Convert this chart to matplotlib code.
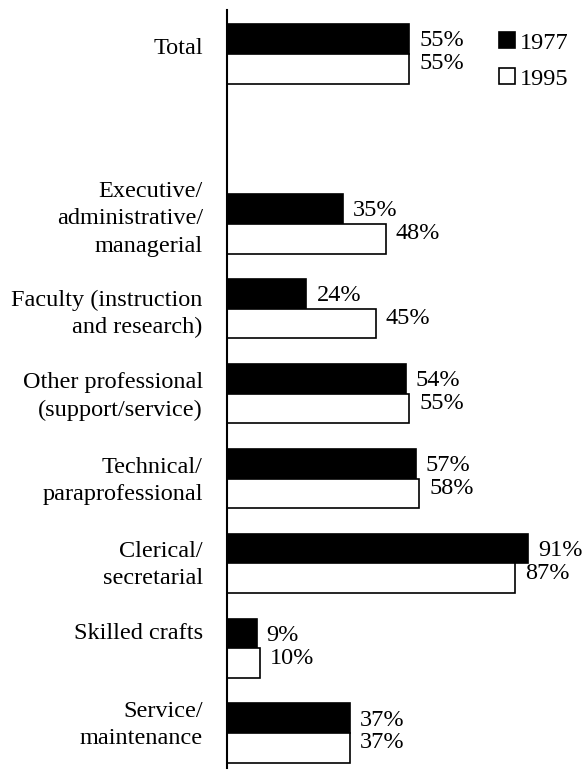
import matplotlib.pyplot as plt
import numpy as np

plt.rcParams['font.family'] = ['Liberation Serif', 'DejaVu Serif']

categories = ["Total", "Executive/\nadministrative/\nmanagerial",
              "Faculty (instruction\nand research)",
              "Other professional\n(support/service)",
              "Technical/\nparaprofessional", "Clerical/\nsecretarial",
              "Skilled crafts", "Service/\nmaintenance"]
vals_1977 = [55, 35, 24, 54, 57, 91, 9, 37]
vals_1995 = [55, 48, 45, 55, 58, 87, 10, 37]
# slot positions (blank slot after Total)
pos = np.array([0, 2, 3, 4, 5, 6, 7, 8])
# small vertical nudges for the category labels
lab_off = [-0.07, -0.06, 0.06, 0.03, 0.03, 0.02, -0.17, -0.1]

fig = plt.figure(figsize=(5.83, 7.7), dpi=100)
ax = fig.add_axes([227 / 583, 2 / 770, 1 - 227 / 583, 758 / 770])

h = 0.35
b1 = ax.barh(pos - h / 2, vals_1977, height=h, color='black', edgecolor='black', linewidth=1.2, label='1977')
b2 = ax.barh(pos + h / 2, vals_1995, height=h, color='white', edgecolor='black', linewidth=1.2, label='1995')

fs = 17.5
for p, v in zip(pos, vals_1977):
    ax.text(v + 3, p - h / 2 + 0.02, f"{v}%", va='center', ha='left', fontsize=fs)
for p, v in zip(pos, vals_1995):
    ax.text(v + 3, p + h / 2 - 0.06, f"{v}%", va='center', ha='left', fontsize=fs)

for p, c, o in zip(pos, categories, lab_off):
    ax.text(-7.3, p + o, c, ha='right', va='center', fontsize=fs, linespacing=1.4)

ax.set_xlim(0, 107.5)
ax.set_ylim(8.41, -0.52)
ax.set_xticks([])
ax.set_yticks([])
for s in ['top', 'right', 'bottom']:
    ax.spines[s].set_visible(False)
ax.spines['left'].set_linewidth(1.5)

ax.legend(handles=[b1, b2], loc='upper left', bbox_to_anchor=(499 / 583, 1 - 32 / 770),
          bbox_transform=fig.transFigure, frameon=False, fontsize=fs,
          handlelength=0.65, handleheight=0.65, handletextpad=0.2,
          labelspacing=0.6, borderpad=0, borderaxespad=0)

fig.savefig("out.png", dpi=100)
